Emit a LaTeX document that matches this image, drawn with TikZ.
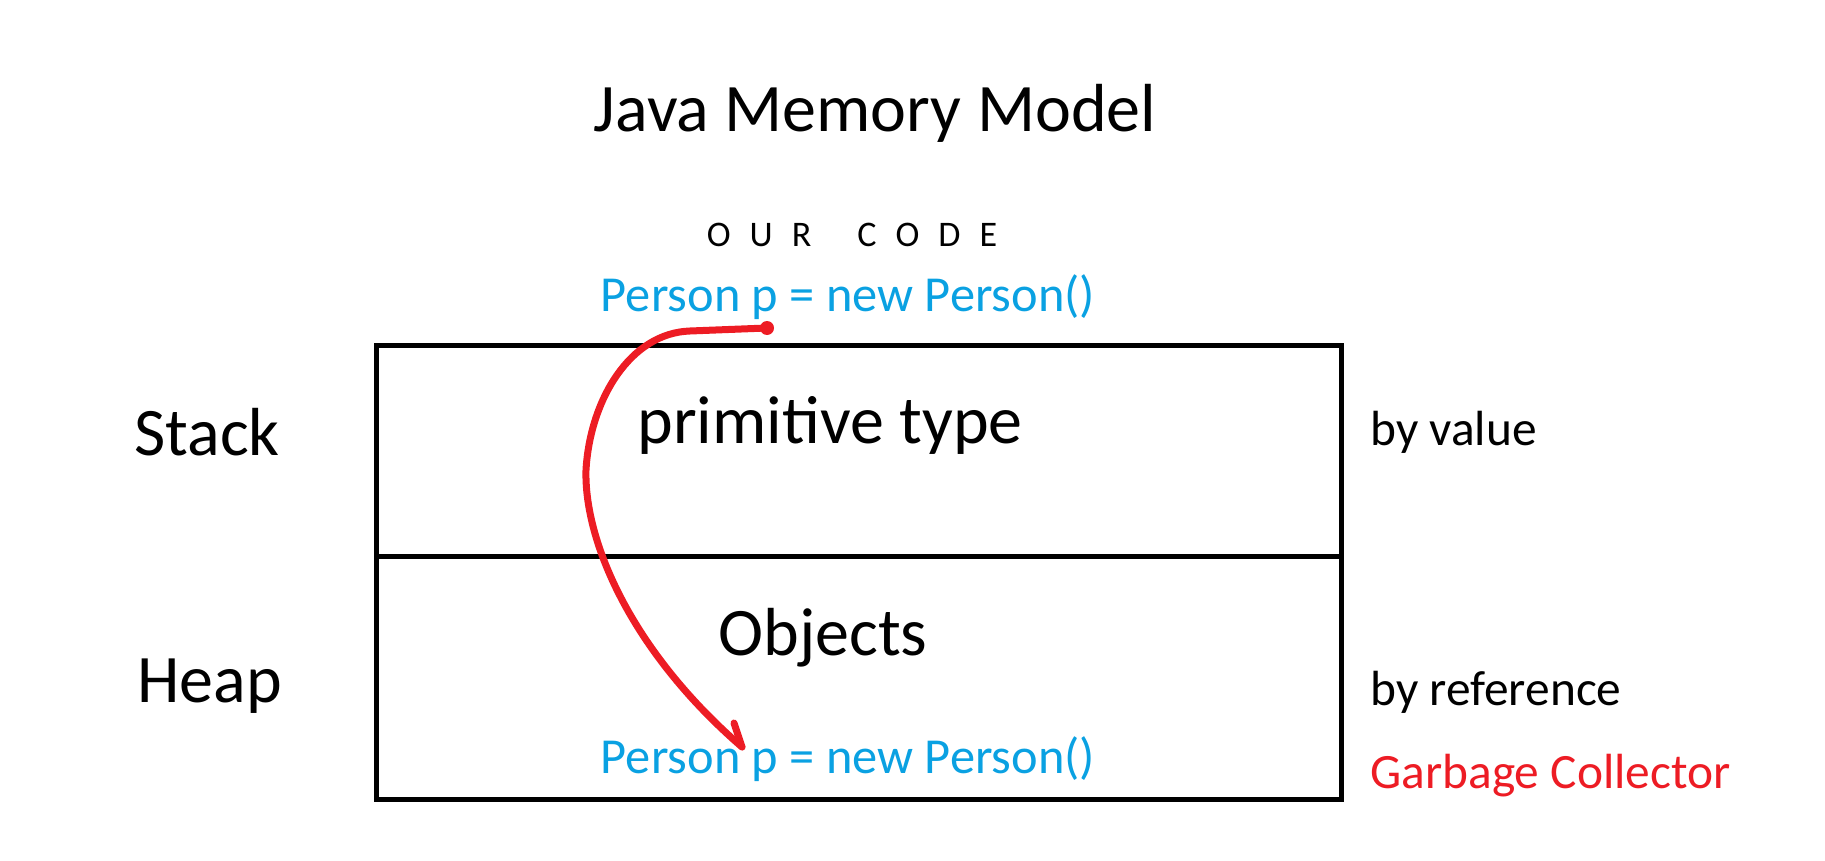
\documentclass[tikz,border=0pt]{standalone}
\usepackage{fontspec}
\setmainfont{Carlito}
\definecolor{codeblue}{HTML}{0AA1E2}
\definecolor{gcred}{HTML}{ED1C24}

\begin{document}
\begin{tikzpicture}[x=0.5pt,y=-0.5pt]
\tikzstyle{big} = [font=\fontsize{34}{40}\selectfont,inner sep=0pt];
\tikzstyle{side} = [font=\fontsize{24.7}{29}\selectfont,inner sep=0pt,anchor=base west];
\tikzstyle{code} = [font=\fontsize{25.2}{30}\selectfont,inner sep=0pt,anchor=base,text=codeblue];
\tikzstyle{mem} = [line width=2.5pt];
\tikzstyle{ref} = [draw=gcred,line width=3.5pt,line cap=round,line join=round];
\useasboundingbox (0,0) rectangle (1825,861);

\node [big,anchor=base] (title) at (875,132) {Java Memory Model};
\node [font=\fontsize{18}{22}\selectfont,inner sep=0pt,anchor=base] (ourcode) at (852,247)
  {O\hspace{9.5pt}U\hspace{9.5pt}R\hspace{23pt}C\hspace{9.5pt}O\hspace{9.5pt}D\hspace{9.5pt}E};
\node [code] (codetop) at (848,312) {Person p = new Person()};

% memory areas
\draw [mem] (376,345) rectangle (1341,799);
\draw [mem] (376,556) -- (1341,556);
\node [big,anchor=base west] (stack) at (134,455) {Stack};
\node [big,anchor=base west] (heap) at (137,702) {Heap};
\node [big,anchor=base] (primtype) at (830,443) {primitive type};
\node [big,anchor=base] (objects) at (823,655) {Objects};
\node [code] (codeheap) at (848,773) {Person p = new Person()};

\node [side] (byvalue) at (1370,445) {by value};
\node [side] (byref) at (1370,705) {by reference};
\node [side,text=gcred] (gc) at (1370,788) {Garbage Collector};

% reference from the code to the heap
\coordinate (refstart) at (767,328);
\coordinate (reftip) at (742,747);
\fill [gcred] (refstart) circle (7);
\draw [ref] (refstart) -- (690,331) .. controls (630,333) and (590,400) .. (586,470)
  .. controls (584,540) and (630,650) .. (reftip);
\draw [ref] (reftip) -- ++(-8,-24);
\end{tikzpicture}
\end{document}
